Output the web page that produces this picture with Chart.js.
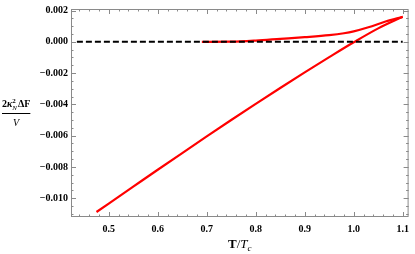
<!DOCTYPE html>
<html>
<head>
<meta charset="utf-8">
<script src="https://cdn.jsdelivr.net/npm/chart.js@4"></script>
<style>
  html, body { margin: 0; padding: 0; background: #fff; }
  #wrap { width: 415px; height: 254px; }
</style>
</head>
<body>
<div id="wrap"><canvas id="chart"></canvas></div>
<script>
// data
const lowerT = [0.475, 0.5, 0.55, 0.6, 0.65, 0.7, 0.75, 0.8, 0.85, 0.9, 0.95, 1.0, 1.05, 1.1];
const lowerF = [-0.01088, -0.01034, -0.00926, -0.00818, -0.00711, -0.00605, -0.00500, -0.00397, -0.00295, -0.00195, -0.00098, -0.00003, 0.00086, 0.0016];
const upperT = [0.69, 0.75, 0.8, 0.85, 0.9, 0.95, 0.98, 1.0, 1.03, 1.065, 1.1];
const upperF = [0, 0.00001, 0.00008, 0.00019, 0.0003, 0.00043, 0.00055, 0.00067, 0.00093, 0.0013, 0.0016];
const zeroT = [0.435, 1.1];
const zeroF = [0, 0];

const xTicks = [0.5, 0.6, 0.7, 0.8, 0.9, 1.0, 1.1];
const yTicks = [-0.010, -0.008, -0.006, -0.004, -0.002, 0.000, 0.002];
const xMinorStep = 0.02;
const yMinorStep = 0.0005;

const pts = (xs, ys) => xs.map((x, i) => ({ x: x, y: ys[i] }));

const FRAME = "#8a8a8a";

// frame with inward ticks on all four sides, like the original
const framePlugin = {
    id: "frame",
    beforeDatasetsDraw(chart) {
        const { ctx, chartArea: a, scales: { x, y } } = chart;
        ctx.save();
        ctx.strokeStyle = FRAME;
        ctx.lineWidth = 1;
        ctx.strokeRect(a.left + 0.5, a.top + 0.5, a.right - a.left - 1, a.bottom - a.top - 1);
        ctx.beginPath();
        // x ticks
        for (let v = Math.ceil(x.min / xMinorStep) * xMinorStep; v <= x.max + 1e-9; v += xMinorStep) {
            const major = Math.abs(v * 10 - Math.round(v * 10)) < 1e-6;
            const len = major ? 5 : 2.5;
            const px = Math.round(x.getPixelForValue(v)) + 0.5;
            ctx.moveTo(px, a.bottom); ctx.lineTo(px, a.bottom - len);
            ctx.moveTo(px, a.top); ctx.lineTo(px, a.top + len);
        }
        // y ticks
        for (let v = Math.ceil(y.min / yMinorStep) * yMinorStep; v <= y.max + 1e-12; v += yMinorStep) {
            const major = Math.abs(v / 0.002 - Math.round(v / 0.002)) < 1e-6;
            const len = major ? 5 : 2.5;
            const py = Math.round(y.getPixelForValue(v)) + 0.5;
            ctx.moveTo(a.left, py); ctx.lineTo(a.left + len, py);
            ctx.moveTo(a.right, py); ctx.lineTo(a.right - len, py);
        }
        ctx.stroke();
        ctx.restore();
    },
    afterDraw(chart) {
        const { ctx, chartArea: a } = chart;
        ctx.save();
        ctx.fillStyle = "#000";
        ctx.textBaseline = "alphabetic";
        // x title: T/T_c
        const cx = (a.left + a.right) / 2;
        const by = 248;
        ctx.font = "bold 13px 'Liberation Serif'";
        const w1 = ctx.measureText("T").width;
        ctx.font = "13px 'Liberation Serif'";
        const w2 = ctx.measureText("/").width;
        ctx.font = "italic 13px 'Liberation Serif'";
        const w3 = ctx.measureText("T").width;
        ctx.font = "italic 9px 'Liberation Serif'";
        const w4 = ctx.measureText("c").width;
        let sx = cx - (w1 + w2 + w3 + w4) / 2;
        ctx.textAlign = "left";
        ctx.font = "bold 13px 'Liberation Serif'";
        ctx.fillText("T", sx, by); sx += w1;
        ctx.font = "13px 'Liberation Serif'";
        ctx.fillText("/", sx, by); sx += w2;
        ctx.font = "italic 13px 'Liberation Serif'";
        ctx.fillText("T", sx, by); sx += w3;
        ctx.font = "italic 9px 'Liberation Serif'";
        ctx.fillText("c", sx, by + 3);

        // y title: 2κ²_N ΔF / V
        const fx = 2, fy = 107;
        let px = fx;
        ctx.font = "bold 10px 'Liberation Serif'";
        ctx.fillText("2", px, fy); px += ctx.measureText("2").width;
        ctx.font = "italic bold 10px 'Liberation Serif'";
        ctx.fillText("κ", px, fy); px += ctx.measureText("κ").width;
        ctx.font = "bold 7px 'Liberation Serif'";
        ctx.fillText("2", px, fy - 4);
        ctx.font = "italic 7px 'Liberation Serif'";
        ctx.fillText("N", px, fy + 3);
        px += ctx.measureText("N").width + 1;
        ctx.font = "bold 10px 'Liberation Serif'";
        ctx.fillText("ΔF", px, fy); px += ctx.measureText("ΔF").width;
        ctx.strokeStyle = "#000";
        ctx.lineWidth = 1;
        ctx.beginPath();
        ctx.moveTo(fx, 113.5); ctx.lineTo(px, 113.5);
        ctx.stroke();
        ctx.font = "italic 10px 'Liberation Serif'";
        ctx.textAlign = "center";
        ctx.fillText("V", (fx + px) / 2, 126);
        ctx.restore();
    }
};

const ctx = document.getElementById("chart").getContext("2d");

new Chart(ctx, {
    type: "line",
    data: {
        datasets: [
            {
                data: pts(zeroT, zeroF),
                borderColor: "#000",
                borderWidth: 2,
                borderDash: [6, 3],
                pointRadius: 0,
                tension: 0
            },
            {
                data: pts(upperT, upperF),
                borderColor: "#ff0000",
                borderWidth: 2.2,
                pointRadius: 0,
                tension: 0.4,
                cubicInterpolationMode: "monotone"
            },
            {
                data: pts(lowerT, lowerF),
                borderColor: "#ff0000",
                borderWidth: 2.2,
                pointRadius: 0,
                tension: 0.4,
                cubicInterpolationMode: "monotone"
            }
        ]
    },
    options: {
        responsive: true,
        maintainAspectRatio: false,
        animation: false,
        layout: { padding: { top: 5, right: 2, left: 0, bottom: 0 } },
        plugins: { legend: { display: false }, tooltip: { enabled: false } },
        scales: {
            x: {
                type: "linear",
                min: 0.423,
                max: 1.112,
                afterBuildTicks: (s) => { s.ticks = xTicks.map(v => ({ value: v })); },
                afterFit: (s) => { s.height = 37; },
                grid: { display: false, drawTicks: false },
                border: { display: false },
                ticks: {
                    padding: 6,
                    color: "#000",
                    font: { family: "'Liberation Serif'", size: 10, weight: "bold" },
                    maxRotation: 0,
                    callback: (v) => v.toFixed(1)
                }
            },
            y: {
                min: -0.0112,
                max: 0.0021,
                afterBuildTicks: (s) => { s.ticks = yTicks.map(v => ({ value: v })); },
                afterFit: (s) => { s.width = 71; },
                grid: { display: false, drawTicks: false },
                border: { display: false },
                ticks: {
                    padding: 3,
                    color: "#000",
                    font: { family: "'Liberation Serif'", size: 10, weight: "bold" },
                    callback: (v) => Math.abs(v) < 1e-9 ? "0.000" : v.toFixed(3).replace("-", "\u2212")
                }
            }
        }
    },
    plugins: [framePlugin]
});
</script>
</body>
</html>
